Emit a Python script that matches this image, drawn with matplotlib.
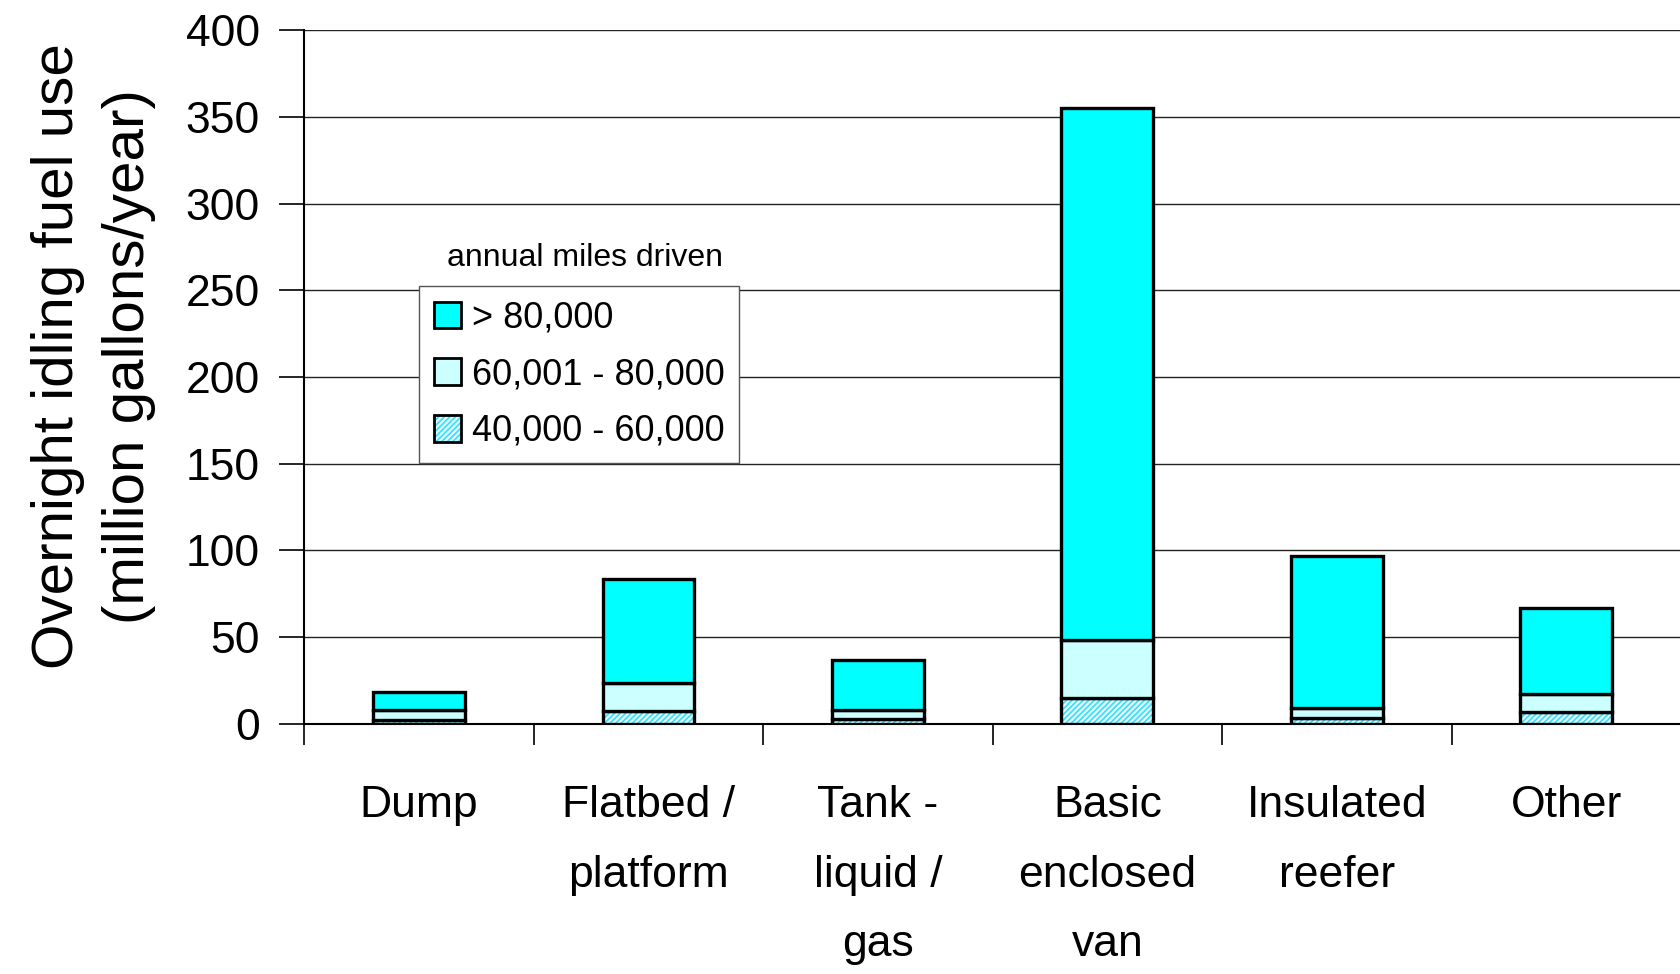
import matplotlib

matplotlib.use("Agg")
import matplotlib.pyplot as plt
import matplotlib.patches as mpatches
from matplotlib.legend_handler import HandlerTuple
import numpy as np

# 各類車型（x 軸）
CATEGORIES = [
    "Dump",
    "Flatbed /\nplatform",
    "Tank -\nliquid /\ngas",
    "Basic\nenclosed\nvan",
    "Insulated\nreefer",
    "Other",
]
# million gallons/year，依年行駛里程分段
MILES_40_60K = [2, 7.5, 2.5, 15, 3, 7]
MILES_60_80K = [6, 16, 5.5, 33, 6, 10]
MILES_OVER_80K = [10, 60, 29, 307, 87.5, 50]
SERIES_LABELS = ["> 80,000", "60,001 - 80,000", "40,000 - 60,000"]
Y_TICKS = [0, 50, 100, 150, 200, 250, 300, 350, 400]

NARROW = ["Liberation Sans Narrow", "Liberation Sans", "DejaVu Sans"]
REGULAR = ["Liberation Sans", "DejaVu Sans"]

plt.rcParams["font.family"] = REGULAR
plt.rcParams["hatch.linewidth"] = 1.2

fig = plt.figure(figsize=(16.81, 9.74), dpi=100)
ax = fig.add_axes([0.181, 0.257, 0.819, 0.712])

x = np.arange(len(CATEGORIES))
w = 0.4
lw = 2.4

low = np.array(MILES_40_60K)
mid = np.array(MILES_60_80K)
high = np.array(MILES_OVER_80K)

# 底層：斜線填充（先畫填色 + 青色斜線，再疊黑框）
ax.bar(x, low, w, color="#E6FFFF", edgecolor="#33DDFF", hatch="//////",
       linewidth=0, zorder=3)
ax.bar(x, low, w, fill=False, edgecolor="black", linewidth=lw, zorder=4)
ax.bar(x, mid, w, bottom=low, color="#CCFFFF", edgecolor="black",
       linewidth=lw, zorder=4)
ax.bar(x, high, w, bottom=low + mid, color="#00FFFF", edgecolor="black",
       linewidth=lw, zorder=4)

# 格線
for t in Y_TICKS[1:]:
    ax.axhline(t, color="#222222", linewidth=1.0, zorder=1)

ax.set_xlim(-0.5, len(CATEGORIES) - 0.5)
ax.set_ylim(0, 400)

ax.set_yticks(Y_TICKS)
ax.set_yticklabels([str(t) for t in Y_TICKS], fontsize=32)
ax.tick_params(axis="y", length=18, width=1.2, pad=14, direction="out")

ax.set_xticks(x)
ax.set_xticklabels(CATEGORIES, fontsize=32, family=NARROW, linespacing=1.9)
ax.tick_params(axis="x", length=0, pad=44)
ax.set_xticks(np.arange(len(CATEGORIES) + 1) - 0.5, minor=True)
ax.tick_params(axis="x", which="minor", length=15, width=1.2, direction="out")

for s in ["top", "right"]:
    ax.spines[s].set_visible(False)
ax.spines["left"].set_linewidth(1.5)
ax.spines["bottom"].set_linewidth(1.5)

ax.set_ylabel("Overnight idling fuel use\n(million gallons/year)",
              fontsize=42, family=NARROW, linespacing=1.4)
ax.yaxis.set_label_coords(-0.108, 0.53)

# 圖例
hatch_fill = mpatches.Patch(facecolor="#E6FFFF", edgecolor="#33DDFF",
                            hatch="//////", linewidth=0)
hatch_edge = mpatches.Patch(fill=False, edgecolor="black", linewidth=2)
handles = [
    mpatches.Patch(facecolor="#00FFFF", edgecolor="black", linewidth=2),
    mpatches.Patch(facecolor="#CCFFFF", edgecolor="black", linewidth=2),
    (hatch_fill, hatch_edge),
]
leg = ax.legend(handles, SERIES_LABELS, loc="upper left",
                bbox_to_anchor=(0.0835, 0.631), fontsize=26, frameon=True,
                fancybox=False, edgecolor="#555555", framealpha=1,
                handlelength=0.75, handleheight=0.75, handletextpad=0.3,
                labelspacing=0.6, borderpad=0.4, borderaxespad=0,
                handler_map={tuple: HandlerTuple(ndivide=1, pad=0)})
leg.get_frame().set_linewidth(1.0)
leg.set_zorder(5)

ax.text(0.104, 0.65, "annual miles driven", transform=ax.transAxes,
        fontsize=23, family=NARROW, ha="left", va="bottom")

fig.savefig("out.png", dpi=100)
